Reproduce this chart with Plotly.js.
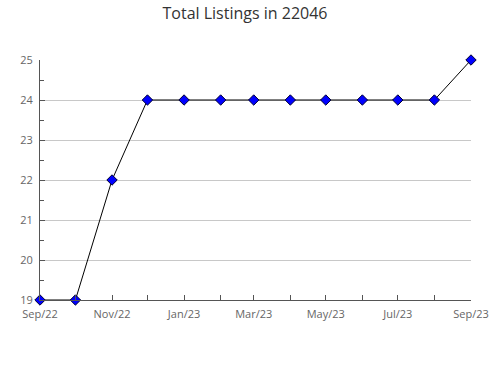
<!DOCTYPE html>
<html><head><meta charset="utf-8">
<script src="https://cdn.plot.ly/plotly-3.0.1.min.js"></script>
<style>html,body{margin:0;padding:0;background:#fff}#c{width:490px;height:380px}</style>
</head><body><div id="c"></div>
<script>
const months = ["2022-09-01","2022-10-01","2022-11-01","2022-12-01","2023-01-01","2023-02-01","2023-03-01","2023-04-01","2023-05-01","2023-06-01","2023-07-01","2023-08-01","2023-09-01"];
const listings = [19,19,22,24,24,24,24,24,24,24,24,24,25];
const tickVals = ["2022-09-01","2022-11-01","2023-01-01","2023-03-01","2023-05-01","2023-07-01","2023-09-01"];
const tickText = ["Sep/22","Nov/22","Jan/23","Mar/23","May/23","Jul/23","Sep/23"];
const yTicks = [19,20,21,22,23,24,25];

const trace = {
  x: months, y: listings, type: 'scatter', mode: 'lines+markers',
  line: {color: '#000', width: 1},
  marker: {symbol: 'diamond', size: 8, color: '#0000ff', line: {color: '#000033', width: 1}},
  cliponaxis: false, hoverinfo: 'skip'
};
const font = {family: '"Open Sans", sans-serif', color: '#666', size: 11};
const layout = {
  width: 490, height: 380,
  margin: {l: 40, r: 19, t: 60, b: 80},
  paper_bgcolor: '#fff', plot_bgcolor: '#fff',
  showlegend: false,
  font: font,
  title: {text: 'Total Listings in 22046', font: {family: '"Open Sans", sans-serif', size: 16, color: '#333'}, x: 0.5, xanchor: 'center', y: 0.98, yanchor: 'top'},
  xaxis: {
    type: 'date', range: [months[0], months[months.length-1]],
    tickvals: tickVals, ticktext: tickText,
    ticks: 'inside', ticklen: 5, tickcolor: '#555',
    minor: {dtick: 'M1', tick0: '2022-09-01', ticks: 'inside', ticklen: 5, tickcolor: '#555', showgrid: false},
    showline: true, linecolor: '#555', linewidth: 1,
    showgrid: false, zeroline: false, fixedrange: true,
    ticklabelstandoff: 4,
    tickfont: font
  },
  yaxis: {
    range: [19, 25], tickvals: yTicks,
    ticks: 'inside', ticklen: 5, tickcolor: '#555',
    minor: {dtick: 0.5, tick0: 19, ticks: 'inside', ticklen: 4, tickcolor: '#555', showgrid: false},
    showline: true, linecolor: '#555', linewidth: 1,
    showgrid: true, gridcolor: '#c8c8c8', gridwidth: 1,
    zeroline: false, fixedrange: true, ticklabelstandoff: 4,
    tickfont: font
  }
};
Plotly.newPlot('c', [trace], layout, {staticPlot: true, displayModeBar: false});
</script></body></html>
